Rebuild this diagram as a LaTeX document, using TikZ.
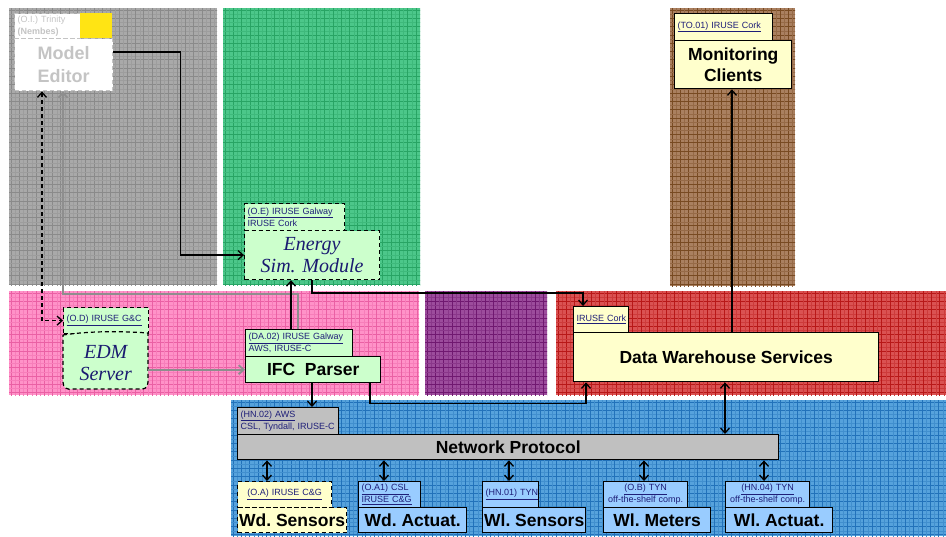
\documentclass[tikz,border=0pt]{standalone}
\usepackage{fontspec}
\setmainfont{Liberation Sans}
\newfontfamily\seriffam{Liberation Serif}
\usetikzlibrary{arrows.meta,calc}
\definecolor{pgrayA}{HTML}{A9A9A9}\definecolor{pgrayB}{HTML}{8A8A8A}
\definecolor{pgreenA}{HTML}{4CC78A}\definecolor{pgreenB}{HTML}{28A464}
\definecolor{ppinkA}{HTML}{FF92C8}\definecolor{ppinkB}{HTML}{EA60A4}
\definecolor{ppurpA}{HTML}{9C4C9C}\definecolor{ppurpB}{HTML}{701870}
\definecolor{predA}{HTML}{DA5252}\definecolor{predB}{HTML}{B81818}
\definecolor{pblueA}{HTML}{56A2DC}\definecolor{pblueB}{HTML}{2272BA}
\definecolor{pbrownA}{HTML}{AA8060}\definecolor{pbrownB}{HTML}{784A22}
\definecolor{lgreen}{HTML}{CCFFCC}
\definecolor{lyellow}{HTML}{FFFFCC}
\definecolor{lblue}{HTML}{99CCFF}
\definecolor{npgray}{HTML}{C0C0C0}
\definecolor{linkc}{HTML}{1E1E78}
\definecolor{navyc}{HTML}{1A1A70}
\definecolor{megray}{HTML}{C4C4C4}
\definecolor{yel}{HTML}{FFE414}
\definecolor{conngray}{HTML}{8E8E8E}
\newcommand\bgpanel[6]{%
  \begin{scope}
  \clip (#1,#2) rectangle (#3,#4);
  \fill[#5] (#1,#2) rectangle (#3,#4);
  \foreach \k in {0,...,115}{%
    \draw[#6, line width=0.8pt] ({#1+2+\k*8.3},#2) -- ++(0,300);
    \draw[#6, line width=0.8pt] (#1,{#2+2+\k*8.3}) -- ++(950,0);
    \draw[#6!40!#5, line width=0.35pt] ({#1+6.2+\k*8.3},#2) -- ++(0,300);
    \draw[#6!40!#5, line width=0.35pt] (#1,{#2+6.2+\k*8.3}) -- ++(950,0);
  }
  \end{scope}}
\tikzset{
  hdr/.style={draw, line width=1.2pt, anchor=north west, inner xsep=3pt, inner ysep=0pt,
    font=\fontsize{9}{12}\selectfont, text=linkc, align=left},
  mainbox/.style={draw, line width=1.4pt, anchor=north west, inner sep=0pt,
    font=\fontsize{17.5}{21.5}\selectfont\bfseries, align=center},
  dashbox/.style={dash pattern=on 4pt off 3pt},
  arr/.style={-{Straight Barb[length=5pt,width=9pt]}, line width=1.3pt},
  bidir/.style={{Straight Barb[length=5pt,width=9pt]}-{Straight Barb[length=5pt,width=9pt]}, line width=1.3pt},
  grayarr/.style={-{Straight Barb[length=5pt,width=9pt]}, line width=1.8pt, draw=conngray}
}
\newcommand\ul[1]{\underline{#1}}
\begin{document}
\begin{tikzpicture}[x=1pt,y=-1pt]
\useasboundingbox (0,0) rectangle (946,536);
\fill[white] (0,0) rectangle (946,536);
% background panels
\bgpanel{9}{8}{217}{285}{pgrayA}{pgrayB}
\bgpanel{223}{8}{420}{285}{pgreenA}{pgreenB}
\bgpanel{670}{8}{795}{286}{pbrownA}{pbrownB}
\bgpanel{9}{291}{419}{395}{ppinkA}{ppinkB}
\bgpanel{425}{291}{547}{395}{ppurpA}{ppurpB}
\bgpanel{556}{291}{946}{395}{predA}{predB}
\bgpanel{231}{400}{946}{536}{pblueA}{pblueB}

% Model Editor
\node[hdr, dashbox, draw=megray, fill=white, text width=60pt, minimum height=25pt, text=megray] (meH) at (14,13)
  {(O.I.) Trinity\\\textbf{(Nembes)}};
\node[anchor=north west, fill=yel, minimum width=32pt, minimum height=25pt, inner sep=0pt] (meY) at (80,13) {};
\node[mainbox, dashbox, draw=megray, fill=white, text=megray, minimum width=98pt, minimum height=52pt,
  font=\fontsize{18}{23}\selectfont\bfseries] (me) at (14,38) {Model\\Editor};

% Energy Sim. Module
\node[hdr, dashbox, fill=lgreen, text width=94pt, minimum height=27pt] (esH) at (244,203)
  {\ul{(O.E) IRUSE Galway}\\IRUSE Cork};
\node[mainbox, dashbox, line width=1.2pt, fill=lgreen, minimum width=135pt, minimum height=49pt,
  font=\fontsize{20}{22}\selectfont\seriffam\itshape, text=navyc] (es) at (244,230) {Energy\\Sim. Module};

% EDM Server
\node[hdr, dashbox, fill=lgreen, text width=79pt, minimum height=26pt] (edH) at (63,307) {\ul{(O.D) IRUSE G\&C}};
\fill[lgreen] (63,335) .. controls (90,331) and (120,331) .. (148,333) -- (148,382)
  .. controls (148,388) and (144,390) .. (138,389) -- (73,389) .. controls (67,390) and (63,388) .. (63,382) -- cycle;
\draw[dashbox, line width=1.2pt] (63,335) .. controls (90,331) and (120,331) .. (148,333) -- (148,382)
  .. controls (148,388) and (144,390) .. (138,389) -- (73,389) .. controls (67,390) and (63,388) .. (63,382) -- cycle;
\node[anchor=north west, inner sep=0pt, minimum width=85pt, minimum height=58pt, align=center,
  font=\fontsize{20}{22}\selectfont\seriffam\itshape, text=navyc] (ed) at (63,334) {EDM\\Server};

% IFC Parser
\node[hdr, fill=lgreen, text width=101pt, minimum height=27pt] (ifH) at (245,329)
  {\ul{(DA.02) IRUSE Galway}\\AWS, IRUSE-C};
\node[mainbox, fill=lgreen, minimum width=135pt, minimum height=26pt] (if) at (245,356) {IFC\ \ Parser};

% Data Warehouse Services
\node[hdr, fill=lyellow, text width=49pt, minimum height=26pt] (dwH) at (573,306) {\ul{IRUSE Cork}};
\node[mainbox, fill=lyellow, minimum width=305pt, minimum height=49pt] (dw) at (573,332) {Data Warehouse Services};

% Monitoring Clients
\node[hdr, fill=lyellow, text width=92pt, minimum height=27pt] (mcH) at (674,13) {\ul{(TO.01) IRUSE Cork}};
\node[mainbox, fill=lyellow, minimum width=117pt, minimum height=48pt] (mc) at (674,40) {Monitoring\\Clients};

% Network Protocol
\node[hdr, fill=npgray, text width=95pt, minimum height=27pt] (npH) at (237,407)
  {\ul{(HN.02) AWS}\\CSL, Tyndall, IRUSE-C};
\node[mainbox, fill=npgray, minimum width=541pt, minimum height=25pt] (np) at (237,434) {Network Protocol};

% devices
\node[hdr, dashbox, fill=lyellow, text width=88pt, minimum height=26pt, align=center] (wsH) at (237,481) {\ul{(O.A) IRUSE C\&G}};
\node[mainbox, dashbox, line width=1.2pt, fill=lyellow, minimum width=109pt, minimum height=25pt] (ws) at (237,507) {Wd.\ Sensors};

\node[hdr, fill=lblue, text width=56pt, minimum height=26pt] (waH) at (358,481) {\ul{(O.A1) CSL}\\\ul{IRUSE C\&G}};
\node[mainbox, fill=lblue, minimum width=108pt, minimum height=25pt] (wa) at (358,507) {Wd.\ Actuat.};

\node[hdr, fill=lblue, text width=50pt, minimum height=26pt, align=center] (lsH) at (482,481) {\ul{(HN.01) TYN}};
\node[mainbox, fill=lblue, minimum width=103pt, minimum height=25pt] (ls) at (482,507) {Wl.\ Sensors};

\node[hdr, fill=lblue, text width=78pt, minimum height=26pt, align=center] (lmH) at (603,481) {\ul{(O.B) TYN}\\off-the-shelf comp.};
\node[mainbox, fill=lblue, minimum width=107pt, minimum height=25pt] (lm) at (603,507) {Wl.\ Meters};

\node[hdr, fill=lblue, text width=78pt, minimum height=26pt, align=center] (laH) at (725,481) {\ul{(HN.04) TYN}\\off-the-shelf comp.};
\node[mainbox, fill=lblue, minimum width=107pt, minimum height=25pt] (la) at (725,507) {Wl.\ Actuat.};

% connectors
\draw[arr] ($(me.north east)+(0,14)$) -- ++(67,0) |- (es.west);
\draw[bidir, dash pattern=on 4pt off 3pt] ($(me.south west)+(28,0)$) |- (edH.west);
\draw[grayarr] ($(ifH.north west)+(53,0)$) -- ++(0,-35) -| ($(me.south west)+(49,0)$);
\draw[grayarr] (ed.east |- if.west) -- (if.west);
\draw[arr] ($(ifH.north west)+(46,0)$) -- ($(es.south west)+(47,0)$);
\draw[arr] ($(es.south west)+(68,0)$) |- ($(dwH.north west)+(10,-13)$) -- ($(dwH.north west)+(10,0)$);
\draw[arr] ($(if.south west)+(67,0)$) -- ($(npH.north west)+(75,0)$);
\draw[arr] ($(if.south west)+(125,0)$) |- ($(dw.south west)+(13,21)$) -- ($(dw.south west)+(13,0)$);
\draw[bidir] ($(dw.south west)+(152,0)$) -- ($(np.north west)+(488,0)$);
\draw[arr] ($(dw.north west)+(159,0)$) -- ($(mc.south west)+(58,0)$);
\draw[bidir] ($(np.south west)+(30,0)$) -- ($(wsH.north west)+(30,0)$);
\draw[bidir] ($(np.south west)+(147,0)$) -- ($(waH.north west)+(26,0)$);
\draw[bidir] ($(np.south west)+(272,0)$) -- ($(lsH.north west)+(27,0)$);
\draw[bidir] ($(np.south west)+(407,0)$) -- ($(lmH.north west)+(41,0)$);
\draw[bidir] ($(np.south west)+(527,0)$) -- ($(laH.north west)+(39,0)$);
\end{tikzpicture}
\end{document}
